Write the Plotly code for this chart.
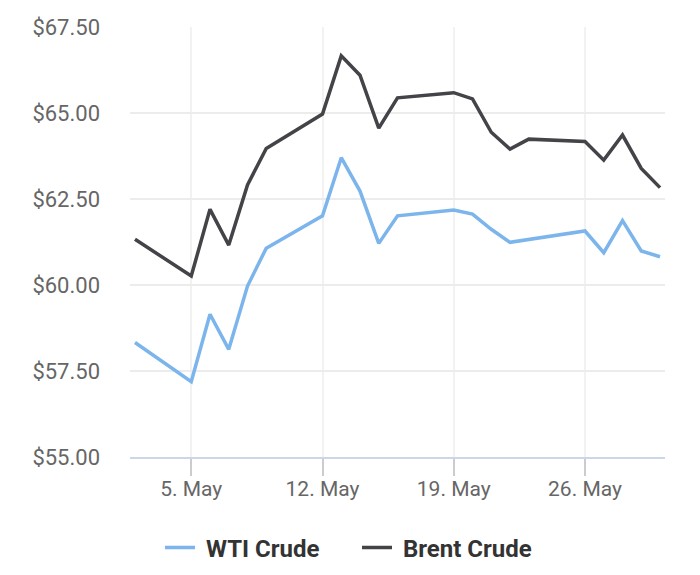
import plotly.graph_objects as go

dates = ["2025-05-02", "2025-05-05", "2025-05-06", "2025-05-07", "2025-05-08", "2025-05-09",
         "2025-05-12", "2025-05-13", "2025-05-14", "2025-05-15", "2025-05-16",
         "2025-05-19", "2025-05-20", "2025-05-21", "2025-05-22", "2025-05-23",
         "2025-05-26", "2025-05-27", "2025-05-28", "2025-05-29", "2025-05-30"]
wti = [58.33, 57.19, 59.15, 58.13, 59.97, 61.07,
       62.01, 63.70, 62.73, 61.21, 62.01,
       62.18, 62.06, 61.62, 61.24, 61.32,
       61.57, 60.94, 61.87, 60.99, 60.82]
brent = [61.33, 60.26, 62.20, 61.16, 62.91, 63.97,
         64.97, 66.66, 66.10, 64.56, 65.44,
         65.59, 65.41, 64.44, 63.95, 64.24,
         64.17, 63.63, 64.36, 63.39, 62.83]
x_tickvals = ["2025-05-05", "2025-05-12", "2025-05-19", "2025-05-26"]
x_ticktext = ["5. May", "12. May", "19. May", "26. May"]
y_tickvals = [55, 57.5, 60, 62.5, 65, 67.5]
y_ticktext = ["$55.00", "$57.50", "$60.00", "$62.50", "$65.00", "$67.50"]

W, H = 692, 567

fig = go.Figure()
fig.add_trace(go.Scatter(x=dates, y=wti, mode="lines", name="\u00a0WTI Crude",
                         line=dict(color="#7cb5ec", width=3.5)))
fig.add_trace(go.Scatter(x=dates, y=brent, mode="lines", name="\u00a0Brent Crude",
                         line=dict(color="#434348", width=3.5)))

fig.update_layout(
    width=W, height=H,
    margin=dict(l=122, r=35, t=19, b=118, autoexpand=False),
    paper_bgcolor="white", plot_bgcolor="white",
    font=dict(family="Roboto", size=20, color="#666666"),
    hovermode=False,
    legend=dict(orientation="h", xref="container", yref="container",
                x=152 / W, xanchor="left", y=27 / H, yanchor="middle",
                font=dict(family="Roboto", size=24, color="#333333", weight="bold"),
                itemwidth=30, entrywidthmode="pixels", entrywidth=152),
    xaxis=dict(range=["2025-05-01 17:36", "2025-05-30 06:24"],
               tickmode="array", tickvals=x_tickvals, ticktext=x_ticktext,
               showgrid=True, gridcolor="#f2f2f2", gridwidth=2,
               showline=True, linecolor="#ccd6eb", linewidth=2,
               ticks="outside", ticklen=17, tickcolor="#cccccc", tickwidth=2,
               ticklabelstandoff=-5,
               tickfont=dict(family="Roboto", size=21, color="#666666"),
               zeroline=False),
    yaxis=dict(range=[55, 67.5], tickmode="array", tickvals=y_tickvals,
               ticktext=y_ticktext,
               showgrid=True, gridcolor="#ececec", gridwidth=2,
               showline=False, zeroline=False,
               ticklabelstandoff=29,
               tickfont=dict(family="Roboto", size=22, color="#666666")),
)

fig.write_html("out.html")
